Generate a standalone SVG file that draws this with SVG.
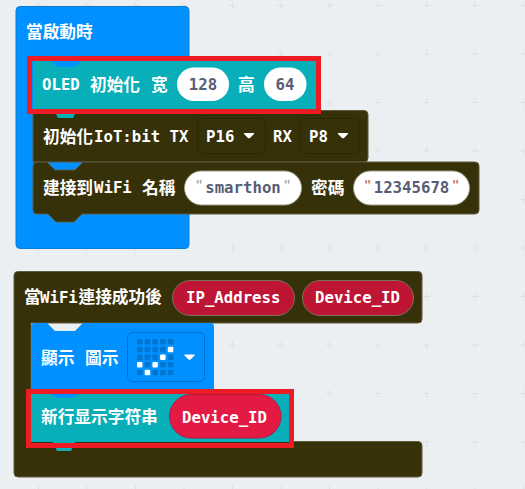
<svg xmlns="http://www.w3.org/2000/svg" width="525" height="489" viewBox="0 0 525 489">
<style>
text{font-family:"DejaVu Sans Mono","Noto Sans CJK TC",monospace;font-weight:700;font-size:15.700px;fill:#fff}
.c{font-family:"Noto Sans CJK TC","Noto Sans CJK SC",sans-serif;font-size:16.700px;font-weight:700}
.v{fill:#575e75;text-anchor:middle}
.q{fill:#a0a4b0;font-size:12px;text-anchor:middle}
.dk{fill:#373109;stroke:#5e5a3c;stroke-width:1}
.dd{fill:#373109;stroke:#2c2707;stroke-width:1}
.red{fill:none;stroke:#ed1c24;stroke-width:5}
.off{fill:#0075cf}.on{fill:#fff}
.g{stroke:#dde1e4;stroke-width:1;fill:none}
</style>
<defs>
<path id="tri" d="M-4.500-2.500H4.500Q5.500-2.500 5-1.500L1 2.500Q0 3.200-1 2.500L-5-1.500Q-5.500-2.500-4.500-2.500Z" fill="#fff"/>
</defs>
<rect width="525" height="489" fill="#ebeff1"/>
<g id="grid">
<path class="g" d="M34.500 5.500h8M83 5.500h8M131.500 5.500h8M180 5.500h8M228.500 5.500h8M277 5.500h8M325.500 5.500h8M374 5.500h8M422.500 5.500h8M471 5.500h8M519.500 5.500h8M277 54h8M325.500 54h8M374 54h8M422.500 54h8M471 54h8M519.500 54h8M325.500 102.500h8M374 102.500h8M422.500 102.500h8M471 102.500h8M519.500 102.500h8M374 151h8M422.500 151h8M471 151h8M519.500 151h8M519.500 199.500h8M228.500 248h8M277 248h8M325.500 248h8M374 248h8M422.500 248h8M471 248h8M519.500 248h8M34.500 248h8M83 248h8M131.500 248h8M180 248h8M422.500 296.500h8M471 296.500h8M519.500 296.500h8M228.500 345h8M277 345h8M325.500 345h8M374 345h8M422.500 345h8M471 345h8M519.500 345h8M325.500 393.500h8M374 393.500h8M422.500 393.500h8M471 393.500h8M519.500 393.500h8M422.500 442h8M471 442h8M519.500 442h8"/>
<path class="g" d="M38.500 1.500v8M87 1.500v8M135.500 1.500v8M184 1.500v8M232.500 1.500v8M281 1.500v8M329.500 1.500v8M378 1.500v8M426.500 1.500v8M475 1.500v8M523.500 1.500v8M281 50v8M329.500 50v8M378 50v8M426.500 50v8M475 50v8M523.500 50v8M329.500 98.500v8M378 98.500v8M426.500 98.500v8M475 98.500v8M523.500 98.500v8M378 147v8M426.500 147v8M475 147v8M523.500 147v8M523.500 195.500v8M232.500 244v8M281 244v8M329.500 244v8M378 244v8M426.500 244v8M475 244v8M523.500 244v8M38.500 244v8M87 244v8M135.500 244v8M184 244v8M426.500 292.500v8M475 292.500v8M523.500 292.500v8M232.500 341v8M281 341v8M329.500 341v8M378 341v8M426.500 341v8M475 341v8M523.500 341v8M329.500 389.500v8M378 389.500v8M426.500 389.500v8M475 389.500v8M523.500 389.500v8M426.500 438v8M475 438v8M523.500 438v8M38.500 485v8M87 485v8M135.500 485v8M184 485v8M232.500 485v8M281 485v8M329.500 485v8M378 485v8M426.500 485v8M475 485v8M523.500 485v8"/>
</g>
<g id="connectors"></g>
<g id="on-start">
<rect x="16" y="6.500" width="173" height="242" rx="4" fill="#0090ff" stroke="#0a7fd6"/>
<text class="c" x="26" y="37.500">當啟動時</text>
</g>
<g id="init-iot">
<path class="dk" d="M37 110.500H364a4 4 0 0 1 4 4V158a4 4 0 0 1-4 4H33V114.500a4 4 0 0 1 4-4Z"/>
<text class="c" x="43" y="143">初始化</text><text x="94" y="142">IoT:bit TX</text>
<rect class="dd" x="197.500" y="118.500" width="68" height="35" rx="4"/>
<text x="206" y="142">P16</text><use href="#tri" x="249" y="135.500"/>
<text x="273" y="142">RX</text>
<rect class="dd" x="300.500" y="118.500" width="58.500" height="35" rx="4"/>
<text x="309" y="142">P8</text><use href="#tri" x="343" y="135.500"/>
</g>
<g id="oled-init">
<path d="M53 108H78L73 118H58Z" fill="#08afb8"/>
<rect x="33" y="61" width="283" height="48" fill="#08afb8"/>
<path d="M51 61H81L75 67H57Z" fill="#0090ff"/>
<text x="42" y="90">OLED</text><text class="c" x="90" y="90.500">初始化</text><text class="c" x="151" y="90.500">宽</text>
<rect x="177" y="67.500" width="52" height="33.500" rx="16.750" fill="#fff"/>
<text class="v" x="203" y="90">128</text><text class="c" x="238" y="90.500">高</text>
<rect x="264" y="67.500" width="42.500" height="33.500" rx="16.750" fill="#fff"/>
<text class="v" x="285" y="90">64</text>
<rect class="red" x="29.500" y="58.500" width="289" height="53"/>
</g>
<g id="wifi-connect">
<path class="dk" d="M37 162H47L55 170H75L83 162H475a4 4 0 0 1 4 4V210a4 4 0 0 1-4 4H82L74 222H56L48 214H37a4 4 0 0 1-4-4V166a4 4 0 0 1 4-4Z"/>
<text class="c" x="43" y="193.500">建接到</text><text x="94" y="193">WiFi</text><text class="c" x="142" y="193.500">名稱</text>
<rect x="184.500" y="171" width="117" height="34" rx="17" fill="#fff" stroke="#a09e8c"/>
<text class="q" x="199" y="189">"</text><text class="v" x="243" y="193">smarthon</text><text class="q" x="287" y="189">"</text>
<text class="c" x="311" y="193.500">密碼</text>
<rect x="353.500" y="171" width="116" height="34" rx="17" fill="#fff" stroke="#a09e8c"/>
<text class="q" x="367.500" y="189" style="fill:#c86a6a">"</text><text class="v" x="411.500" y="193">12345678</text><text class="q" x="455.500" y="189" style="fill:#c86a6a">"</text>
</g>
<g id="on-wifi-connected">
<path class="dk" d="M18 271.500H418a4 4 0 0 1 4 4V319a4 4 0 0 1-4 4H31V441.500H418a4 4 0 0 1 4 4V473a4 4 0 0 1-4 4H18a4 4 0 0 1-4-4V275.500a4 4 0 0 1 4-4Z"/>
<text class="c" x="24" y="303">當</text><text x="40" y="303">WiFi</text><text class="c" x="78.500" y="303">連接成功後</text>
<rect x="172.500" y="280.500" width="122" height="35" rx="17.500" fill="#be1535" stroke="#77735a"/>
<text x="186" y="303">IP_Address</text>
<rect x="302.500" y="280.500" width="111" height="35" rx="17.500" fill="#be1535" stroke="#77735a"/>
<text x="315" y="303">Device_ID</text>
</g>
<g id="show-icon">
<path d="M35 323H47L55 331H75L83 323H210a4 4 0 0 1 4 4V389H31V327a4 4 0 0 1 4-4Z" fill="#0090ff"/>
<text class="c" x="41" y="363.500">顯示</text><text class="c" x="85" y="363.500">圖示</text>
<rect x="127.500" y="332.500" width="77" height="49" rx="5" fill="#0090ff" stroke="#0071c9"/>
<g class="off">
<rect x="137" y="339" width="5.500" height="5.500" rx="1"/><rect x="144.700" y="339" width="5.500" height="5.500" rx="1"/><rect x="152.400" y="339" width="5.500" height="5.500" rx="1"/><rect x="160.100" y="339" width="5.500" height="5.500" rx="1"/><rect x="167.800" y="339" width="5.500" height="5.500" rx="1"/>
<rect x="137" y="346.700" width="5.500" height="5.500" rx="1"/><rect x="144.700" y="346.700" width="5.500" height="5.500" rx="1"/><rect x="152.400" y="346.700" width="5.500" height="5.500" rx="1"/><rect x="160.100" y="346.700" width="5.500" height="5.500" rx="1"/><rect class="on" x="167.800" y="346.700" width="5.500" height="5.500" rx="1"/>
<rect x="137" y="354.400" width="5.500" height="5.500" rx="1"/><rect x="144.700" y="354.400" width="5.500" height="5.500" rx="1"/><rect x="152.400" y="354.400" width="5.500" height="5.500" rx="1"/><rect class="on" x="160.100" y="354.400" width="5.500" height="5.500" rx="1"/><rect x="167.800" y="354.400" width="5.500" height="5.500" rx="1"/>
<rect class="on" x="137" y="362.100" width="5.500" height="5.500" rx="1"/><rect x="144.700" y="362.100" width="5.500" height="5.500" rx="1"/><rect class="on" x="152.400" y="362.100" width="5.500" height="5.500" rx="1"/><rect x="160.100" y="362.100" width="5.500" height="5.500" rx="1"/><rect x="167.800" y="362.100" width="5.500" height="5.500" rx="1"/>
<rect x="137" y="369.800" width="5.500" height="5.500" rx="1"/><rect class="on" x="144.700" y="369.800" width="5.500" height="5.500" rx="1"/><rect x="152.400" y="369.800" width="5.500" height="5.500" rx="1"/><rect x="160.100" y="369.800" width="5.500" height="5.500" rx="1"/><rect x="167.800" y="369.800" width="5.500" height="5.500" rx="1"/>
</g>
<use href="#tri" x="189.500" y="357"/>
</g>
<g id="show-string">
<path d="M52 441H76L71 451H57Z" fill="#08afb8"/>
<rect x="31" y="394" width="258" height="48" fill="#08afb8"/>
<path d="M51 394H78L72 398H57Z" fill="#0090ff"/>
<text class="c" x="41" y="423">新行显示字符串</text>
<rect x="169.500" y="394.500" width="111.500" height="43.500" rx="21.750" fill="#e31b44" stroke="#b9173a"/>
<text x="182" y="422.500">Device_ID</text>
<rect class="red" x="28.500" y="391.500" width="263" height="54"/>
</g>
</svg>
